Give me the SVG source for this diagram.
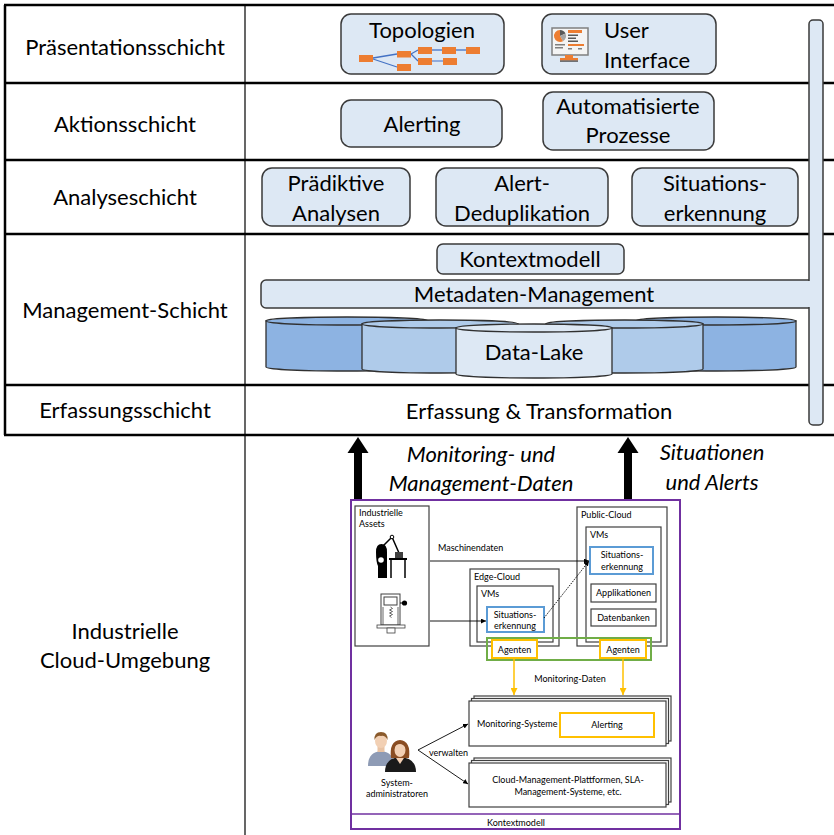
<svg xmlns="http://www.w3.org/2000/svg" width="834" height="835" viewBox="0 0 834 835">
  <style>
    text { font-family: Lato, "Liberation Sans", sans-serif; fill: #000; }
    .lbl { font-size: 22px; text-anchor: middle; }
    .lft { font-size: 22px; }
    .it { font-size: 22px; font-style: italic; text-anchor: middle; }
    .sm { font-size: 9px; }
    .smc { font-size: 9px; text-anchor: middle; }
    .box { fill: #dde8f4; stroke: #3a3a3a; stroke-width: 1.5; }
    .grid { stroke: #000; stroke-width: 2.5; fill: none; }
    .thin { fill: #fff; stroke: #404040; stroke-width: 1.2; }
    .cyl { stroke: #303030; stroke-width: 1.3; }
    .dark { fill: #8db3e2; }
    .mid { fill: #afcbea; }
    .light { fill: #dde8f4; }
    .edge { stroke: #000; stroke-width: 0.9; fill: none; }
    .org { stroke: #ffc000; stroke-width: 1.5; fill: none; }
    .topo { fill: #ed7d31; }
    .tl { stroke: #4472c4; stroke-width: 1.3; }
  </style>
  <defs>
    <marker id="ah" viewBox="0 0 10 10" refX="10" refY="5" markerWidth="5" markerHeight="5" markerUnits="userSpaceOnUse" orient="auto">
      <path d="M0,0 L10,5 L0,10 Z" fill="#000"/>
    </marker>
    <marker id="ahO" viewBox="0 0 10 10" refX="10" refY="5" markerWidth="7" markerHeight="7" markerUnits="userSpaceOnUse" orient="auto">
      <path d="M0,0 L10,5 L0,10 Z" fill="#ffc000"/>
    </marker>
  </defs>

  <!-- layer table -->
  <g id="table">
    <line x1="245" y1="5" x2="245" y2="835" stroke="#000" stroke-width="1.2"/>
    <line class="grid" x1="5" y1="5" x2="5" y2="435"/>
    <line class="grid" x1="4" y1="5" x2="834" y2="5"/>
    <line class="grid" x1="4" y1="83" x2="834" y2="83"/>
    <line class="grid" x1="4" y1="160" x2="834" y2="160"/>
    <line class="grid" x1="4" y1="234" x2="834" y2="234"/>
    <line class="grid" x1="4" y1="385" x2="834" y2="385"/>
    <line class="grid" x1="4" y1="435" x2="834" y2="435"/>
  </g>

  <g id="layer-labels">
    <text class="lbl" x="125" y="55">Präsentationsschicht</text>
    <text class="lbl" x="125" y="132">Aktionsschicht</text>
    <text class="lbl" x="125" y="205">Analyseschicht</text>
    <text class="lbl" x="125" y="318">Management-Schicht</text>
    <text class="lbl" x="125" y="418">Erfassungsschicht</text>
    <text class="lbl" x="125" y="639">Industrielle</text>
    <text class="lbl" x="125" y="668">Cloud-Umgebung</text>
  </g>

  <!-- metadata bar joined into the vertical bar -->
  <g id="metadaten-management">
    <rect class="box" x="261" y="280" width="553" height="28" rx="5"/>
    <rect class="box" x="809" y="20" width="14" height="405" rx="4"/>
    <rect x="805" y="281" width="6" height="26" fill="#dde8f4"/>
    <text class="lbl" x="534" y="302">Metadaten-Management</text>
  </g>

  <g id="topologien">
    <rect class="box" x="341" y="14" width="163" height="60" rx="10"/>
    <text class="lbl" x="422" y="38">Topologien</text>
    <line class="tl" x1="373" y1="58" x2="397" y2="54"/>
    <line class="tl" x1="373" y1="59" x2="397" y2="67"/>
    <line class="tl" x1="411" y1="54" x2="418" y2="50"/>
    <line class="tl" x1="411" y1="54" x2="418" y2="61"/>
    <line class="tl" x1="432" y1="50" x2="442" y2="50"/>
    <line class="tl" x1="456" y1="50" x2="466" y2="50"/>
    <line x1="432" y1="61" x2="443" y2="61" stroke="#8faadc" stroke-width="2"/>
    <rect class="topo" x="359" y="55" width="14" height="7"/>
    <rect class="topo" x="397" y="51" width="14" height="6.5"/>
    <rect class="topo" x="397" y="64" width="14" height="7"/>
    <rect class="topo" x="418" y="47" width="14" height="7"/>
    <rect class="topo" x="418" y="58" width="14" height="7"/>
    <rect class="topo" x="442" y="47" width="14" height="7"/>
    <rect class="topo" x="443" y="58" width="14" height="7"/>
    <rect class="topo" x="466" y="47" width="14" height="7"/>
  </g>

  <g id="user-interface">
    <rect class="box" x="542" y="14" width="174" height="60" rx="10"/>
    <text class="lft" x="604" y="38">User</text>
    <text class="lft" x="604" y="68">Interface</text>
    <!-- monitor icon -->
    <rect x="552" y="28" width="36" height="27" fill="#f4f4f4" stroke="#7f7f7f" stroke-width="1.5"/>
    <path d="M560,36 L560,30 A6,6 0 0 1 565.5,33.5 Z" fill="#595959"/>
    <path d="M560,36 L565.5,33.5 A6,6 0 0 1 563,41.2 Z" fill="#a5a5a5"/>
    <path d="M560,36 L563,41.2 A6,6 0 1 1 560,30 Z" fill="#ed7d31"/>
    <rect x="555" y="44" width="10" height="1.5" fill="#7f7f7f"/>
    <rect x="555" y="47" width="8" height="1.5" fill="#7f7f7f"/>
    <rect x="568" y="30" width="14" height="3" fill="#ed7d31"/>
    <rect x="568" y="34.5" width="10" height="1.5" fill="#595959"/>
    <rect x="568" y="37.5" width="8" height="1.5" fill="#595959"/>
    <rect x="568" y="40.5" width="10" height="1.5" fill="#595959"/>
    <rect x="568" y="44" width="16" height="2" fill="#ed7d31"/>
    <rect x="568" y="48" width="4" height="1.5" fill="#7f7f7f"/>
    <rect x="578" y="48" width="4" height="1.5" fill="#7f7f7f"/>
    <rect x="565" y="55" width="8" height="3.5" fill="#ed7d31"/>
    <rect x="560" y="58" width="18" height="2.5" fill="#ed7d31"/>
    <rect x="560" y="60.5" width="18" height="1.2" fill="#404040"/>
  </g>

  <g id="alerting">
    <rect class="box" x="341" y="100" width="161" height="47" rx="10"/>
    <text class="lbl" x="422" y="132">Alerting</text>
  </g>
  <g id="automatisierte-prozesse">
    <rect class="box" x="543" y="92" width="171" height="58" rx="10"/>
    <text class="lbl" x="628" y="114">Automatisierte</text>
    <text class="lbl" x="628" y="143">Prozesse</text>
  </g>

  <g id="praediktive-analysen">
    <rect class="box" x="262" y="168" width="148" height="58" rx="10"/>
    <text class="lbl" x="336" y="191">Prädiktive</text>
    <text class="lbl" x="336" y="221">Analysen</text>
  </g>
  <g id="alert-deduplikation">
    <rect class="box" x="436" y="168" width="172" height="58" rx="10"/>
    <text class="lbl" x="522" y="191">Alert-</text>
    <text class="lbl" x="522" y="221">Deduplikation</text>
  </g>
  <g id="situationserkennung">
    <rect class="box" x="632" y="168" width="166" height="58" rx="10"/>
    <text class="lbl" x="715" y="191">Situations-</text>
    <text class="lbl" x="715" y="221">erkennung</text>
  </g>

  <g id="kontextmodell">
    <rect class="box" x="437" y="244" width="187" height="30" rx="6"/>
    <text class="lbl" x="530" y="267">Kontextmodell</text>
  </g>

  <g id="data-lake">
    <path class="cyl dark" d="M266,321 V367 A81,4 0 0 0 428,367 V321 Z"/>
    <ellipse class="cyl dark" cx="347" cy="321" rx="81" ry="4"/>
    <path class="cyl dark" d="M636,321 V367 A80,4 0 0 0 796,367 V321 Z"/>
    <ellipse class="cyl dark" cx="716" cy="321" rx="80" ry="4"/>
    <path class="cyl mid" d="M362,324 V369 A78,4 0 0 0 518,369 V324 Z"/>
    <ellipse class="cyl mid" cx="440" cy="324" rx="78" ry="4"/>
    <path class="cyl mid" d="M546,324 V369 A78.5,4 0 0 0 703,369 V324 Z"/>
    <ellipse class="cyl mid" cx="624.5" cy="324" rx="78.5" ry="4"/>
    <path class="cyl light" d="M456,328 V374 A78,4 0 0 0 612,374 V328 Z"/>
    <ellipse class="cyl light" cx="534" cy="328" rx="78" ry="4"/>
    <text class="lbl" x="534" y="360">Data-Lake</text>
  </g>

  <g id="erfassung">
    <text class="lbl" x="539" y="419">Erfassung &amp; Transformation</text>
  </g>

  <!-- upward flows into the stack -->
  <g id="flows">
    <path d="M354,500 V453 H347.5 L358,437 L368.5,453 H362 V500 Z" fill="#000"/>
    <path d="M624,500 V453 H617.5 L628,437 L638.5,453 H632 V500 Z" fill="#000"/>
    <text class="it" x="481" y="462">Monitoring- und</text>
    <text class="it" x="481" y="491">Management-Daten</text>
    <text class="it" x="712" y="460">Situationen</text>
    <text class="it" x="712" y="490">und Alerts</text>
  </g>

  <!-- industrial cloud environment -->
  <g id="cloud-umgebung">
    <rect x="351" y="500" width="329" height="329" fill="none" stroke="#7030a0" stroke-width="2"/>
    <line x1="351" y1="814" x2="680" y2="814" stroke="#7030a0" stroke-width="1.5"/>
    <text class="smc" x="516" y="826">Kontextmodell</text>
  </g>

  <g id="industrielle-assets">
    <rect class="thin" x="355" y="506" width="74" height="140"/>
    <text class="sm" x="359" y="516">Industrielle</text>
    <text class="sm" x="359" y="527">Assets</text>
    <!-- robot arm at a table -->
    <path d="M381,548 L392,537 L399,553" fill="none" stroke="#000" stroke-width="1.5"/>
    <circle cx="392" cy="537" r="1.8" fill="#fff" stroke="#000" stroke-width="1"/>
    <path d="M376,552 Q376,544 381.5,544 Q387,544 387,552 V578 H378 V566 Q376,562 376,552 Z" fill="#000"/>
    <circle cx="381" cy="560" r="2.8" fill="#fff"/>
    <rect x="395" y="552" width="8" height="6" fill="#404040"/>
    <rect x="389" y="558" width="18" height="2" fill="#000"/>
    <line x1="391" y1="560" x2="391" y2="578" stroke="#000" stroke-width="1.5"/>
    <line x1="405" y1="560" x2="405" y2="578" stroke="#000" stroke-width="1.5"/>
    <!-- machine -->
    <rect x="381" y="594" width="19" height="31" fill="#fff" stroke="#404040" stroke-width="1"/>
    <rect x="384" y="597" width="13" height="8" fill="#fff" stroke="#404040" stroke-width="1"/>
    <line x1="383" y1="607" x2="383" y2="625" stroke="#404040" stroke-width="0.8"/>
    <line x1="398" y1="607" x2="398" y2="625" stroke="#404040" stroke-width="0.8"/>
    <path d="M390.5,607 l2,1.5 l-3,1.5 l3,1.5 l-3,1.5 l3,1.5 l-3,1.5 l2,1.5" fill="none" stroke="#404040" stroke-width="0.8"/>
    <line x1="400" y1="603" x2="403" y2="603" stroke="#000" stroke-width="1"/>
    <circle cx="404.5" cy="603" r="2.6" fill="#000"/>
    <rect x="377" y="625" width="28" height="3" fill="#fff" stroke="#404040" stroke-width="0.8"/>
    <rect x="387" y="628" width="8" height="5" fill="#fff" stroke="#404040" stroke-width="0.8"/>
  </g>

  <g id="public-cloud">
    <rect class="thin" x="577" y="507" width="90" height="139"/>
    <text class="sm" x="581" y="518">Public-Cloud</text>
    <rect class="thin" x="586" y="527" width="75" height="115"/>
    <text class="sm" x="590" y="538">VMs</text>
  </g>
  <g id="situationserkennung-public">
    <rect x="590" y="547" width="63" height="27" fill="#fff" stroke="#5b9bd5" stroke-width="2"/>
    <text class="smc" x="622" y="558">Situations-</text>
    <text class="smc" x="622" y="570">erkennung</text>
  </g>
  <g id="applikationen">
    <rect class="thin" x="591" y="584" width="65" height="18"/>
    <text class="smc" x="623.5" y="596">Applikationen</text>
  </g>
  <g id="datenbanken">
    <rect class="thin" x="591" y="609" width="65" height="17"/>
    <text class="smc" x="623.5" y="621">Datenbanken</text>
  </g>

  <g id="edge-cloud">
    <rect class="thin" x="470" y="569" width="89" height="77"/>
    <text class="sm" x="474" y="580">Edge-Cloud</text>
    <rect class="thin" x="477" y="586" width="76" height="56"/>
    <text class="sm" x="481" y="597">VMs</text>
  </g>
  <g id="situationserkennung-edge">
    <rect x="487" y="607" width="57" height="25" fill="#fff" stroke="#5b9bd5" stroke-width="2"/>
    <text class="smc" x="515" y="618">Situations-</text>
    <text class="smc" x="515" y="629">erkennung</text>
  </g>

  <g id="agenten">
    <rect x="487" y="638" width="164" height="22" fill="none" stroke="#70ad47" stroke-width="2"/>
    <rect x="492" y="640" width="45" height="18" fill="#fff" stroke="#ffc000" stroke-width="2"/>
    <text class="smc" x="514.5" y="652.5">Agenten</text>
    <rect x="600" y="640" width="46" height="18" fill="#fff" stroke="#ffc000" stroke-width="2"/>
    <text class="smc" x="623" y="652.5">Agenten</text>
  </g>

  <g id="monitoring-systeme">
    <rect class="thin" x="474" y="696" width="197" height="45"/>
    <rect class="thin" x="471.5" y="698.5" width="197" height="45"/>
    <rect class="thin" x="469" y="701" width="197" height="45"/>
    <text class="sm" x="477" y="727">Monitoring-Systeme</text>
    <rect x="560" y="713" width="94" height="24" fill="#fff" stroke="#ffc000" stroke-width="2"/>
    <text class="smc" x="607" y="728">Alerting</text>
  </g>

  <g id="cloud-management">
    <rect class="thin" x="474" y="758" width="197" height="44"/>
    <rect class="thin" x="471.5" y="760.5" width="197" height="44"/>
    <rect class="thin" x="469" y="763" width="197" height="44"/>
    <text class="smc" x="568" y="783">Cloud-Management-Plattformen, SLA-</text>
    <text class="smc" x="568" y="795">Management-Systeme, etc.</text>
  </g>

  <g id="systemadministratoren">
    <!-- man -->
    <path d="M368,766 Q368,752 381,751 Q394,752 394,766 Z" fill="#8e9bb5"/>
    <rect x="377.5" y="745" width="7" height="7" fill="#e9c3a4"/>
    <ellipse cx="381" cy="741" rx="6" ry="7" fill="#f2d0b4"/>
    <path d="M374.5,740 Q374,732 381,732 Q388,732 387.5,740 Q385,735 381,736 Q377,735 374.5,740 Z" fill="#8a5a2b"/>
    <!-- woman -->
    <path d="M385,772 Q385,758 400,757 Q416,758 416,772 Z" fill="#1a1a1a"/>
    <path d="M391,758 Q389,741 400,740 Q411,741 409,758 Z" fill="#8a4d22"/>
    <ellipse cx="400" cy="750" rx="5.5" ry="7" fill="#f2d0b4"/>
    <path d="M394,748 Q396,742 400,742 Q405,742 406,748 Q403,744 400,744 Q396,744 394,748 Z" fill="#8a4d22"/>
    <path d="M396,758 L400,764 L404,758 Z" fill="#f2d0b4"/>
    <text class="smc" x="397" y="786">System-</text>
    <text class="smc" x="397" y="797">administratoren</text>
  </g>

  <g id="connectors">
    <line class="edge" x1="430" y1="561" x2="589" y2="561" marker-end="url(#ah)"/>
    <text class="sm" x="438" y="551">Maschinendaten</text>
    <line class="edge" x1="430" y1="621" x2="486" y2="621" marker-end="url(#ah)"/>
    <line class="edge" x1="544" y1="618" x2="589" y2="561" stroke-dasharray="1.5 1.2" marker-end="url(#ah)"/>
    <line class="org" x1="514" y1="658" x2="514" y2="695" marker-end="url(#ahO)"/>
    <line class="org" x1="623" y1="658" x2="623" y2="695" marker-end="url(#ahO)"/>
    <text class="smc" x="570" y="682">Monitoring-Daten</text>
    <line class="edge" x1="418" y1="750" x2="468" y2="724" marker-end="url(#ah)"/>
    <line class="edge" x1="418" y1="750" x2="468" y2="784" marker-end="url(#ah)"/>
    <text class="sm" x="429" y="756">verwalten</text>
  </g>
</svg>
